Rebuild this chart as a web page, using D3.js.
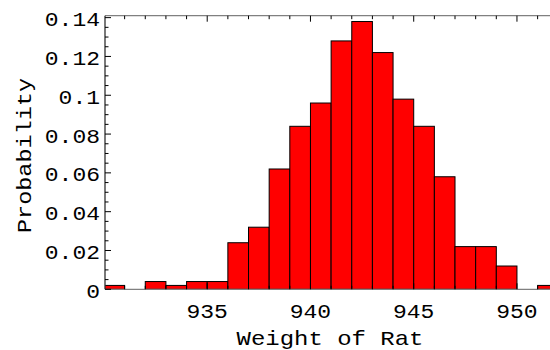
<!DOCTYPE html>
<html><head><meta charset="utf-8">
<script src="https://cdn.jsdelivr.net/npm/d3@7"></script>
<style>body{margin:0;background:#fff}svg{display:block}</style>
</head><body><svg id="c" width="550" height="350"></svg>
<script>
const binStarts = [930,931,932,933,934,935,936,937,938,939,940,941,942,943,944,945,946,947,948,949,950,951];
const probs = [0.002,0,0.004,0.002,0.004,0.004,0.024,0.032,0.062,0.084,0.096,0.128,0.138,0.122,0.098,0.084,0.058,0.022,0.022,0.012,0,0.002];
const xTickLabels = [935,940,945,950];
const yTickLabels = [0,0.02,0.04,0.06,0.08,0.1,0.12,0.14];
const xTitle = "Weight of Rat";
const yTitle = "Probability";

const svg = d3.select("#c");
const L = 105, R = 550, T = 15.7, B = 289.3;
const x = d3.scaleLinear().domain([930.05, 951.6]).range([L, R]);
const y = d3.scaleLinear().domain([0, 0.141]).range([B, T]);
const font = "'Liberation Mono', 'DejaVu Sans Mono', monospace";

const cp = svg.append("defs").append("clipPath").attr("id","clip")
  .append("rect").attr("x",L).attr("y",0).attr("width",R-L+10).attr("height",B+1);

// bars
svg.append("g").attr("clip-path","url(#clip)").selectAll("rect").data(binStarts).join("rect")
  .attr("x", d => x(d)).attr("width", d => x(d+1)-x(d))
  .attr("y", (d,i) => y(probs[i])).attr("height", (d,i) => B - y(probs[i]))
  .attr("fill","#ff0000").attr("stroke","#000").attr("stroke-width",1);

// frame lines
const g = svg.append("g");
g.append("line").attr("x1",L).attr("x2",R+5).attr("y1",T).attr("y2",T).attr("stroke","#808080").attr("stroke-width",1.3);
g.append("line").attr("x1",L).attr("x2",R+5).attr("y1",B).attr("y2",B).attr("stroke","#808080").attr("stroke-width",1.3);
g.append("line").attr("x1",L).attr("x2",L).attr("y1",T).attr("y2",B).attr("stroke","#303030").attr("stroke-width",1.3);

// x ticks (bottom up, top down)
const xMinor = d3.range(931, 952);
xMinor.forEach(v => {
  const major = v % 5 === 0;
  const len = major ? 6 : 3.5;
  g.append("line").attr("x1",x(v)).attr("x2",x(v)).attr("y1",B).attr("y2",B-len).attr("stroke","#000").attr("stroke-width",1);
  g.append("line").attr("x1",x(v)).attr("x2",x(v)).attr("y1",T).attr("y2",T+len).attr("stroke","#000").attr("stroke-width",1);
});
// y ticks
const yMinor = d3.range(0, 0.1401, 0.005);
yMinor.forEach(v => {
  const major = Math.abs(Math.round(v/0.02)*0.02 - v) < 1e-6;
  const len = major ? 6 : 3.5;
  g.append("line").attr("x1",L).attr("x2",L+len).attr("y1",y(v)).attr("y2",y(v)).attr("stroke","#000").attr("stroke-width",1);
});

// tick labels
g.selectAll("text.xl").data(xTickLabels).join("text").attr("class","xl")
  .attr("x", d => x(d)).attr("y", 317.5).attr("text-anchor","middle")
  .attr("font-family",font).attr("font-size",20).attr("fill","#000")
  .attr("textLength", d => String(d).length*13.8).attr("lengthAdjust","spacingAndGlyphs")
  .text(d => d);
g.selectAll("text.yl").data(yTickLabels).join("text").attr("class","yl")
  .attr("x", 100).attr("y", d => y(d)+8.5).attr("text-anchor","end")
  .attr("font-family",font).attr("font-size",20).attr("fill","#000")
  .attr("textLength", d => String(d).length*13.8).attr("lengthAdjust","spacingAndGlyphs")
  .text(d => String(d));

// titles
svg.append("text").attr("x",330).attr("y",345).attr("text-anchor","middle")
  .attr("font-family",font).attr("font-size",21).attr("fill","#000")
  .attr("textLength",187).attr("lengthAdjust","spacingAndGlyphs").text(xTitle);
svg.append("text").attr("transform","translate(31,155.5) rotate(-90)").attr("text-anchor","middle")
  .attr("font-family",font).attr("font-size",21).attr("fill","#000")
  .attr("textLength",155).attr("lengthAdjust","spacingAndGlyphs").text(yTitle);
</script></body></html>
